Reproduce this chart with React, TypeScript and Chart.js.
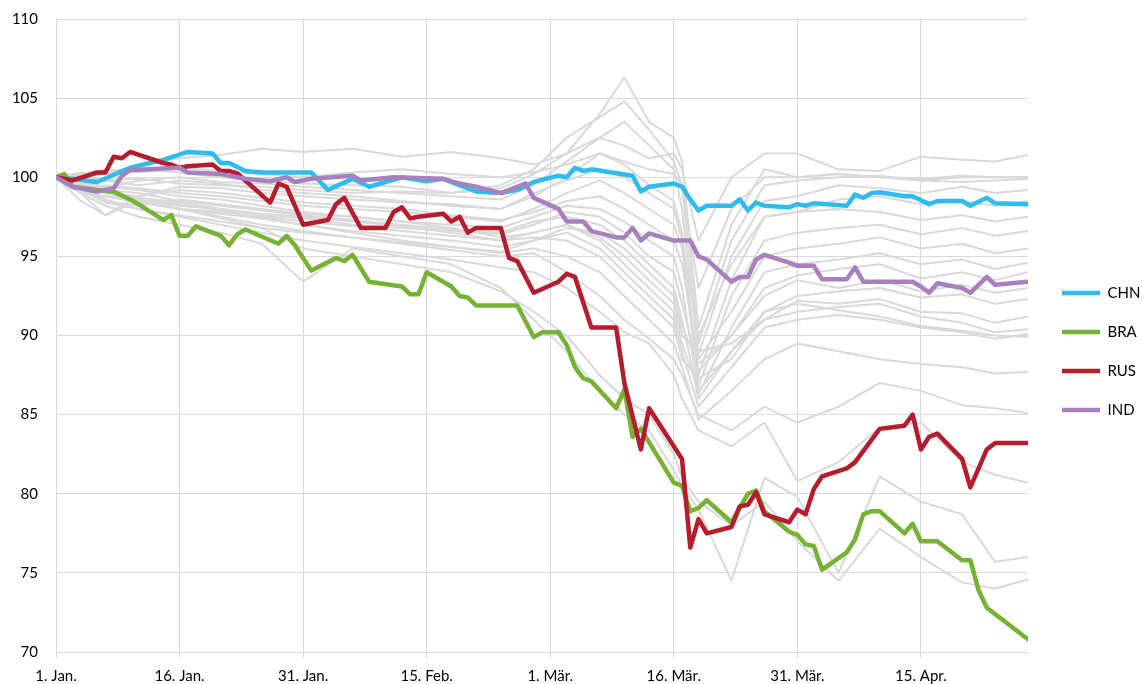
import React, { useEffect, useRef } from 'react';
import { Chart, registerables } from 'chart.js';

Chart.register(...registerables);

// ---- axis definitions ----
const TICK_DAYS = [0, 15, 30, 45, 60, 75, 90, 105];
const TICK_LABELS = ['1. Jan.', '16. Jan.', '31. Jan.', '15. Feb.', '1. Mär.', '16. Mär.', '31. Mär.', '15. Apr.'];
const X_MIN = 0;
const X_MAX = 118;
const Y_MIN = 70;
const Y_MAX = 110;
const Y_STEP = 5;

// ---- highlighted series: [day since 1 Jan, index value] ----
const CHN: [number, number][] = [
  [0, 100], [2, 99.9], [5, 99.7], [9, 100.6], [13, 101.1], [16, 101.6], [19, 101.5], [20, 100.9],
  [21, 100.9], [23, 100.4], [25, 100.3], [31, 100.3], [33, 99.2], [36, 99.9], [38, 99.4], [42, 100.0],
  [45, 99.75], [47, 99.9], [50, 99.3], [51, 99.1], [54, 99.0], [56, 99.2], [58, 99.7], [61, 100.1],
  [62, 100.0], [63, 100.6], [64, 100.4], [65, 100.5], [70, 100.1], [71, 99.1], [72, 99.4], [75, 99.6],
  [76, 99.4], [77, 98.6], [78, 97.9], [79, 98.2], [82, 98.2], [83, 98.6], [84, 97.9], [85, 98.4],
  [86, 98.2], [89, 98.1], [90, 98.3], [91, 98.2], [92, 98.35], [96, 98.2], [97, 98.9], [98, 98.7],
  [99, 99.0], [100, 99.05], [103, 98.8], [104, 98.8], [106, 98.3], [107, 98.5], [110, 98.5], [111, 98.2],
  [113, 98.7], [114, 98.35], [118, 98.3],
];

const BRA: [number, number][] = [
  [0, 100], [1, 100.2], [2, 99.4], [5, 99.2], [7, 99.1], [9, 98.6], [10, 98.3], [13, 97.3],
  [14, 97.6], [15, 96.3], [16, 96.3], [17, 96.9], [20, 96.3], [21, 95.7], [22, 96.4], [23, 96.7],
  [27, 95.8], [28, 96.3], [29, 95.7], [30, 94.9], [31, 94.1], [34, 94.9], [35, 94.7], [36, 95.1],
  [38, 93.4], [42, 93.1], [43, 92.6], [44, 92.6], [45, 94.0], [48, 93.1], [49, 92.5], [50, 92.4],
  [51, 91.9], [56, 91.9], [58, 89.9], [59, 90.2], [61, 90.2], [62, 89.4], [63, 88.0], [64, 87.3],
  [65, 87.1], [68, 85.4], [69, 86.6], [70, 83.6], [71, 84.1], [75, 80.7], [76, 80.5], [77, 78.9],
  [78, 79.1], [79, 79.6], [82, 78.2], [83, 79.1], [84, 80.0], [85, 80.2], [86, 78.9], [89, 77.6],
  [90, 77.4], [91, 76.8], [92, 76.7], [93, 75.2], [96, 76.3], [97, 77.1], [98, 78.7], [99, 78.9],
  [100, 78.9], [103, 77.5], [104, 78.1], [105, 77.0], [107, 77.0], [110, 75.8], [111, 75.8], [112, 73.9],
  [113, 72.8], [118, 70.8],
];

const RUS: [number, number][] = [
  [0, 100], [2, 99.8], [5, 100.3], [6, 100.3], [7, 101.3], [8, 101.2], [9, 101.6], [13, 100.9],
  [14, 100.8], [15, 100.6], [16, 100.7], [19, 100.8], [20, 100.4], [21, 100.4], [22, 100.25], [26, 98.4],
  [27, 99.6], [28, 99.4], [30, 97.0], [33, 97.3], [34, 98.3], [35, 98.7], [37, 96.8], [40, 96.8],
  [41, 97.8], [42, 98.1], [43, 97.4], [44, 97.5], [47, 97.7], [48, 97.2], [49, 97.5], [50, 96.5],
  [51, 96.8], [54, 96.8], [55, 94.9], [56, 94.7], [58, 92.7], [61, 93.4], [62, 93.9], [63, 93.7],
  [65, 90.5], [68, 90.5], [69, 87.0], [70, 84.9], [71, 82.8], [72, 85.4], [76, 82.2], [77, 76.6],
  [78, 78.4], [79, 77.5], [82, 77.9], [83, 79.2], [84, 79.3], [85, 80.1], [86, 78.7], [89, 78.2],
  [90, 79.0], [91, 78.7], [92, 80.3], [93, 81.1], [96, 81.6], [97, 82.0], [100, 84.1], [103, 84.3],
  [104, 85.0], [105, 82.8], [106, 83.6], [107, 83.8], [110, 82.2], [111, 80.4], [113, 82.8], [114, 83.2],
  [118, 83.2],
];

const IND: [number, number][] = [
  [0, 100], [2, 99.4], [5, 99.1], [7, 99.3], [8, 100.1], [9, 100.45], [13, 100.55], [15, 100.6],
  [16, 100.3], [20, 100.2], [23, 99.9], [26, 99.75], [28, 100.0], [29, 99.7], [31, 99.9], [36, 100.1],
  [37, 99.8], [41, 100.0], [47, 99.9], [49, 99.6], [51, 99.4], [54, 99.0], [57, 99.6], [58, 98.7],
  [61, 98.0], [62, 97.2], [64, 97.2], [65, 96.6], [68, 96.2], [69, 96.2], [70, 96.8], [71, 96.0],
  [72, 96.45], [75, 96.0], [77, 96.0], [78, 95.0], [79, 94.8], [82, 93.4], [83, 93.7], [84, 93.7],
  [85, 94.8], [86, 95.1], [89, 94.6], [90, 94.4], [92, 94.4], [93, 93.55], [96, 93.55], [97, 94.3],
  [98, 93.4], [104, 93.4], [105, 93.1], [106, 92.7], [107, 93.3], [110, 93.0], [111, 92.7], [113, 93.7],
  [114, 93.2], [118, 93.4],
];

const SERIES_NAMES = ['CHN', 'BRA', 'RUS', 'IND'];
const SERIES_COLORS = ['#2dbcec', '#76b234', '#b51c2d', '#a681bd'];
const SERIES_DATA = [CHN, BRA, RUS, IND];
const SERIES_ORDER = [3, 2, 1, 0];

// ---- other countries (grey), values on a common day grid ----
const GRAY_DAYS = [0, 3, 6, 10, 15, 20, 25, 30, 36, 42, 48, 54, 58, 62, 66, 69, 72, 75, 76, 78, 82, 86, 90, 95, 100, 105, 110, 114, 118];
const G01 = [100, 100.3, 100.2, 100.8, 101.2, 101.4, 101.8, 101.6, 101.8, 101.3, 101.6, 101.2, 100.8, 101.5, 102.5, 102.0, 101.2, 101.5, 100.5, 96.0, 100.0, 101.5, 101.5, 100.5, 100.4, 101.3, 101.1, 101.0, 101.4];
const G02 = [100, 100.1, 99.8, 99.9, 99.6, 99.5, 99.4, 99.2, 99.0, 99.1, 99.0, 99.3, 100.2, 101.5, 104.0, 106.3, 103.5, 102.5, 101.0, 90.5, 97.0, 100.5, 100.0, 100.2, 100.0, 99.9, 100.1, 100.0, 100.0];
const G03 = [100, 100.0, 100.2, 100.5, 100.3, 100.0, 99.8, 99.6, 99.5, 99.4, 99.0, 99.5, 100.5, 102.5, 103.8, 104.8, 103.0, 101.0, 99.5, 89.5, 96.0, 99.5, 99.8, 100.0, 100.1, 99.8, 99.7, 99.8, 99.9];
const G04 = [100, 99.5, 99.3, 99.8, 100.0, 99.7, 99.6, 99.4, 99.2, 99.0, 98.8, 98.6, 99.5, 101.0, 102.5, 103.5, 102.0, 100.5, 98.0, 88.8, 95.0, 98.5, 98.8, 99.5, 99.3, 99.0, 99.4, 99.0, 99.2];
const G05 = [100, 99.6, 99.8, 99.5, 99.8, 99.6, 99.2, 99.0, 98.8, 98.5, 98.2, 98.0, 98.8, 100.0, 101.5, 100.8, 99.5, 98.5, 96.5, 87.5, 93.5, 97.5, 97.8, 98.0, 97.8, 97.3, 97.6, 97.2, 97.5];
const G06 = [100, 99.2, 99.5, 99.3, 99.0, 98.8, 98.5, 98.2, 98.0, 97.8, 97.5, 97.2, 98.0, 99.0, 99.8, 99.0, 98.0, 97.0, 95.5, 86.8, 92.5, 96.0, 96.5, 96.8, 97.0, 96.4, 96.8, 96.3, 96.6];
const G07 = [100, 99.8, 99.0, 98.8, 99.2, 99.0, 98.7, 98.4, 98.2, 98.0, 97.6, 97.3, 97.8, 98.5, 98.8, 98.0, 97.0, 96.0, 94.5, 88.5, 91.5, 95.0, 95.5, 95.8, 96.2, 95.5, 95.8, 95.2, 95.5];
const G08 = [100, 99.3, 98.5, 98.2, 98.6, 98.3, 98.0, 97.7, 97.5, 97.2, 97.0, 96.8, 97.5, 98.2, 98.0, 97.2, 96.0, 95.0, 93.0, 86.3, 90.5, 94.0, 94.5, 94.8, 95.2, 94.5, 94.8, 94.2, 94.6];
const G09 = [100, 99.0, 97.6, 98.5, 98.2, 98.0, 97.6, 97.4, 97.0, 96.8, 96.6, 96.4, 97.0, 97.8, 97.5, 96.5, 95.0, 94.0, 92.0, 87.8, 90.0, 93.0, 93.8, 94.2, 94.5, 93.6, 94.0, 93.5, 94.0];
const G10 = [100, 99.5, 99.2, 99.0, 98.5, 98.2, 97.9, 97.6, 97.3, 97.0, 96.7, 96.5, 97.2, 97.5, 97.0, 96.0, 94.5, 93.0, 91.0, 86.0, 89.0, 91.5, 92.5, 92.8, 93.0, 92.4, 92.6, 92.0, 92.3];
const G11 = [100, 99.7, 99.4, 99.2, 98.8, 98.6, 98.2, 97.8, 97.5, 97.2, 96.8, 96.2, 96.5, 97.0, 96.2, 95.0, 93.5, 92.0, 90.0, 89.0, 89.5, 91.0, 91.5, 91.8, 92.0, 91.2, 90.8, 90.2, 90.4];
const G12 = [100, 99.0, 98.8, 98.4, 98.0, 97.7, 97.4, 97.0, 96.6, 96.3, 96.0, 95.6, 96.0, 96.5, 95.5, 94.0, 92.5, 91.0, 89.0, 85.5, 88.0, 90.5, 91.0, 91.3, 91.0, 90.5, 90.2, 89.8, 90.1];
const G13 = [100, 99.4, 99.0, 98.6, 98.3, 97.9, 97.5, 97.2, 96.9, 96.6, 96.3, 96.0, 96.2, 96.0, 95.0, 93.5, 92.0, 90.5, 88.5, 87.3, 88.5, 91.5, 92.0, 91.6, 91.2, 90.6, 90.3, 90.0, 89.9];
const G14 = [100, 99.2, 98.4, 98.0, 97.6, 97.2, 96.8, 96.5, 96.2, 95.9, 95.6, 95.2, 95.5, 95.0, 94.0, 92.5, 91.0, 89.5, 88.0, 84.7, 86.5, 88.5, 89.5, 89.0, 88.5, 88.2, 88.0, 87.6, 87.7];
const G15 = [100, 99.6, 99.0, 98.6, 98.0, 97.5, 97.0, 96.6, 96.2, 95.8, 95.4, 95.0, 95.2, 94.0, 92.5, 91.0, 89.8, 88.5, 87.5, 85.0, 84.0, 85.5, 84.5, 85.5, 87.0, 86.5, 85.6, 85.4, 85.1];
const G16 = [100, 99.4, 98.6, 98.0, 97.5, 97.0, 96.5, 96.0, 95.6, 95.2, 94.8, 94.3, 94.0, 93.0, 91.5, 90.2, 89.5, 87.5, 86.0, 84.0, 83.0, 84.5, 80.8, 82.0, 84.2, 84.5, 82.0, 81.2, 80.7];
const G17 = [100, 99.0, 98.2, 97.5, 97.0, 96.5, 95.8, 93.4, 95.5, 95.0, 94.5, 93.0, 91.0, 89.0, 86.5, 85.0, 84.0, 81.5, 80.5, 79.0, 74.5, 81.0, 79.8, 75.0, 81.1, 79.5, 78.7, 75.7, 76.0];
const G18 = [100, 99.5, 99.0, 98.5, 98.0, 97.4, 96.8, 95.5, 95.0, 94.5, 94.0, 92.8, 91.5, 90.0, 87.5, 86.0, 85.0, 82.5, 81.0, 79.5, 78.0, 79.5, 77.0, 74.5, 77.8, 76.0, 74.4, 74.0, 74.6];
const G19 = [100, 100.2, 100.5, 100.3, 100.6, 100.4, 100.2, 100.0, 100.3, 100.5, 100.2, 100.0, 100.3, 100.8, 101.5, 101.0, 100.5, 100.2, 99.5, 93.0, 98.0, 100.0, 100.0, 100.2, 100.0, 99.8, 100.0, 100.0, 100.0];
const G20 = [100, 99.0, 98.8, 98.5, 98.0, 97.8, 97.4, 97.0, 96.5, 96.0, 95.6, 95.3, 96.0, 96.8, 96.5, 95.5, 94.0, 92.5, 90.5, 88.2, 90.0, 92.5, 93.5, 93.0, 93.5, 92.8, 93.2, 92.7, 93.0];
const G21 = [100, 99.3, 99.1, 98.7, 98.4, 98.0, 97.7, 97.5, 97.2, 96.9, 96.5, 96.0, 96.5, 97.0, 96.0, 94.5, 93.0, 91.5, 89.5, 86.5, 89.0, 91.0, 92.2, 92.0, 92.3, 91.5, 91.4, 90.8, 91.2];
const G22 = [100, 98.5, 97.6, 98.8, 99.4, 99.3, 99.0, 98.8, 98.6, 98.4, 98.3, 98.0, 99.0, 99.8, 100.5, 100.0, 99.0, 98.0, 96.0, 90.0, 94.5, 97.5, 97.8, 98.6, 98.8, 98.3, 98.5, 98.2, 98.5];
const GRAY_SERIES = [G01, G02, G03, G04, G05, G06, G07, G08, G09, G10, G11, G12, G13, G14, G15, G16, G17, G18, G19, G20, G21, G22];
const GRAY_COLOR = '#d9d9d9';

const FONT_FAMILY = 'Lato, "Open Sans", sans-serif';

export default function App() {
  const canvasRef = useRef<HTMLCanvasElement | null>(null);

  useEffect(() => {
    const canvas = canvasRef.current;
    if (!canvas) return;

    const highlighted = SERIES_NAMES.map((name, i) => ({
      label: name,
      data: SERIES_DATA[i].map(([x, y]) => ({ x, y })),
      borderColor: SERIES_COLORS[i],
      backgroundColor: SERIES_COLORS[i],
      borderWidth: 4.5,
      pointBorderWidth: 4.5,
      pointRadius: 0,
      pointHoverRadius: 0,
      tension: 0,
      borderJoinStyle: 'round' as const,
      borderCapStyle: 'round' as const,
      order: SERIES_ORDER[i],
    }));

    const gray = GRAY_SERIES.map((vals, i) => ({
      label: 'G' + (i + 1),
      data: vals.map((y, k) => ({ x: GRAY_DAYS[k], y })),
      borderColor: GRAY_COLOR,
      backgroundColor: GRAY_COLOR,
      borderWidth: 2,
      pointRadius: 0,
      pointHoverRadius: 0,
      tension: 0,
      borderJoinStyle: 'round' as const,
      order: 10,
    }));

    const chart = new Chart(canvas, {
      type: 'line',
      data: { datasets: [...highlighted, ...gray] },
      options: {
        responsive: false,
        animation: false,
        devicePixelRatio: 1,
        layout: { padding: { top: 19, right: 0, bottom: 0, left: 0 } },
        font: { family: FONT_FAMILY },
        scales: {
          x: {
            type: 'linear',
            min: X_MIN,
            max: X_MAX,
            afterBuildTicks: (scale: any) => {
              scale.ticks = TICK_DAYS.map((value) => ({ value }));
            },
            afterFit: (scale: any) => {
              scale.height = 32;
            },
            ticks: {
              autoSkip: false,
              maxRotation: 0,
              padding: 9,
              color: '#000',
              font: { family: FONT_FAMILY, size: 15 },
              callback: (value: any) => {
                const idx = TICK_DAYS.indexOf(Number(value));
                return idx >= 0 ? TICK_LABELS[idx] : '';
              },
            },
            grid: { color: GRAY_COLOR, lineWidth: 1, drawTicks: true, tickLength: 6 },
            border: { display: true, color: GRAY_COLOR, width: 1 },
          },
          y: {
            type: 'linear',
            min: Y_MIN,
            max: Y_MAX,
            afterFit: (scale: any) => {
              scale.width = 56;
            },
            ticks: {
              stepSize: Y_STEP,
              padding: 10,
              color: '#000',
              font: { family: FONT_FAMILY, size: 15 },
            },
            grid: {
              color: GRAY_COLOR,
              lineWidth: 1,
              drawTicks: true,
              tickLength: 8,
              tickColor: 'rgba(0,0,0,0)',
            },
            border: { display: true, color: GRAY_COLOR, width: 1 },
          },
          spacer: {
            type: 'linear',
            position: 'right',
            display: true,
            grid: { display: false, drawTicks: false },
            ticks: { display: false },
            border: { display: false },
            afterFit: (scale: any) => {
              scale.width = 10;
            },
          },
        },
        plugins: {
          legend: {
            display: true,
            position: 'right',
            align: 'center',
            maxWidth: 104,
            labels: {
              usePointStyle: true,
              pointStyle: 'line',
              pointStyleWidth: 38,
              padding: 24,
              color: '#000',
              font: { family: FONT_FAMILY, size: 15 },
              filter: (item: any) => item.datasetIndex < SERIES_NAMES.length,
              sort: (a: any, b: any) => a.datasetIndex - b.datasetIndex,
            },
          },
          tooltip: { enabled: false },
          title: { display: false },
        },
      },
    } as any);

    return () => {
      chart.destroy();
    };
  }, []);

  return (
    <div style={{ position: 'absolute', left: 0, top: 0, width: 1142, height: 684 }}>
      <canvas ref={canvasRef} width={1142} height={684} style={{ display: 'block' }} />
    </div>
  );
}
